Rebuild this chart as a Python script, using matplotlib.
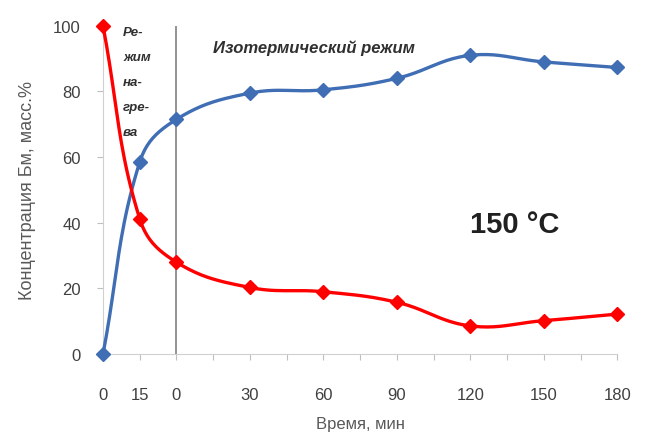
import matplotlib.pyplot as plt
import numpy as np

plt.rcParams['font.family'] = ['Liberation Sans', 'DejaVu Sans']

# категории оси X (пустые - промежуточные деления)
time_labels = ['0', '15', '0', '', '30', '', '60', '', '90', '', '120', '', '150', '', '180']
nan = np.nan
# концентрация, масс.%
conc_blue = [0, 58.5, 71.5, nan, 79.5, nan, 80.5, nan, 84, nan, 91, nan, 89, nan, 87.3]
conc_red = [100, 41.2, 28, nan, 20.3, nan, 19, nan, 15.8, nan, 8.6, nan, 10.2, nan, 12.2]


def smooth(x, y, sx=36.7, sy=3.28, k=0.4, n=24):
    # сглаженная линия (кубические Безье в экранных координатах), как в Excel
    P = np.stack([np.asarray(x, float) * sx, np.asarray(y, float) * sy], axis=1)
    Pe = np.vstack([P[0], P, P[-1]])
    d = np.hypot(*np.diff(Pe, axis=0).T)
    t = np.linspace(0, 1, n)[:, None]
    pts = []
    for i in range(len(P) - 1):
        j = i + 1
        b0, b3 = P[i], P[i + 1]
        r1 = d[j] / max(d[j - 1] + d[j], 1e-9)
        r2 = d[j] / max(d[j] + d[j + 1], 1e-9)
        b1 = b0 + k * (Pe[j + 1] - Pe[j - 1]) * r1
        b2 = b3 - k * (Pe[j + 2] - Pe[j]) * r2
        seg = ((1 - t) ** 3 * b0 + 3 * (1 - t) ** 2 * t * b1
               + 3 * (1 - t) * t ** 2 * b2 + t ** 3 * b3)
        pts.append(seg)
    pts = np.concatenate(pts)
    return pts[:, 0] / sx, pts[:, 1] / sy


fig = plt.figure(figsize=(6.56, 4.39), dpi=100)
ax = fig.add_axes([0.157, 0.191, 0.784, 0.748])

idx = np.arange(len(time_labels))
for vals, col in ((conc_blue, '#3F6EB4'), (conc_red, '#FF0000')):
    v = np.array(vals, float)
    m = ~np.isnan(v)
    cx, cy = smooth(idx[m], v[m])
    ax.plot(cx, cy, color=col, lw=2.4, clip_on=False, zorder=3)
    ax.plot(idx[m], v[m], 'D', color=col, ms=7, clip_on=False, zorder=4)

ax.axvline(2, color='#808080', lw=1.2, zorder=2)

ax.set_xlim(0, len(time_labels) - 1)
ax.set_ylim(0, 100)
ax.set_xticks(idx)
ax.set_xticklabels(time_labels, fontsize=12, color='#404040')
ax.set_yticks(range(0, 101, 20))
ax.set_yticklabels([str(v) for v in range(0, 101, 20)], fontsize=12, color='#404040')
ax.tick_params(axis='x', length=4, color='#BFBFBF', pad=20)
ax.tick_params(axis='y', length=4, color='#BFBFBF', pad=12)

for s in ['top', 'right']:
    ax.spines[s].set_visible(False)
ax.spines['left'].set_color('#D0D0D0')
ax.spines['bottom'].set_color('#D0D0D0')

ax.set_ylabel('Концентрация Бм, масс.%', fontsize=13, color='#595959', labelpad=12)
ax.set_xlabel('Время, мин', fontsize=12, color='#595959', labelpad=10)

ax.text(0.55, 100, 'Ре-\nжим\nна-\nгре-\nва', fontsize=9.5, fontweight='bold',
        style='italic', color='#303030', va='top', ha='left', linespacing=2.45)
ax.text(3.0, 93.5, 'Изотермический режим', fontsize=12, fontweight='bold',
        style='italic', color='#303030', va='center', ha='left')
ax.text(11.2, 39.5, '150 °C', fontsize=21, fontweight='bold',
        color='#202020', va='center', ha='center')

plt.savefig('out.png', dpi=100)
